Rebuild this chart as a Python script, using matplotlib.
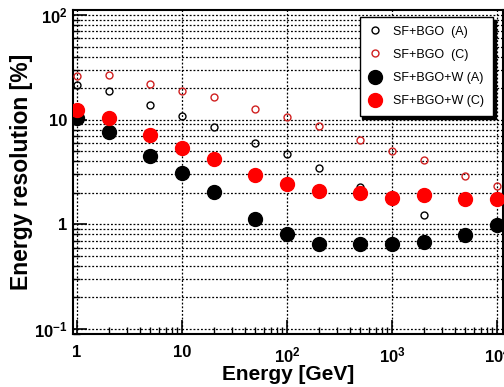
import numpy as np
import matplotlib
matplotlib.use("Agg")
import matplotlib.pyplot as plt
from matplotlib.ticker import FixedLocator, FuncFormatter, NullFormatter

plt.rcParams['font.family'] = ['Liberation Sans', 'DejaVu Sans']
plt.rcParams['mathtext.fontset'] = 'custom'
plt.rcParams['mathtext.rm'] = 'Liberation Sans:bold'
plt.rcParams['mathtext.it'] = 'Liberation Sans:bold'
plt.rcParams['mathtext.bf'] = 'Liberation Sans:bold'

# Beam energies [GeV]
energy = [1, 2, 5, 10, 20, 50, 100, 200, 500, 1000, 2000, 5000, 10000]

# Energy resolution [%]
sf_bgo_a = [21.4, 18.9, 13.7, 10.8, 8.5, 6.05, 4.67, 3.46, 2.27, np.nan, 1.22, np.nan, np.nan]
sf_bgo_c = [26.1, 26.9, 22.0, 18.7, 16.3, 12.6, 10.5, 8.8, 6.46, 5.07, 4.12, 2.92, 2.31]
sf_bgo_w_a = [10.4, 7.64, 4.54, 3.12, 2.04, 1.13, 0.815, 0.648, 0.644, 0.653, 0.677, 0.785, 0.98]
sf_bgo_w_c = [12.3, 10.3, 7.11, 5.37, 4.19, 2.94, 2.43, 2.10, 2.01, 1.77, 1.91, 1.76, 1.73]

labels = ["SF+BGO  (A)", "SF+BGO  (C)", "SF+BGO+W (A)", "SF+BGO+W (C)"]

fig = plt.figure(figsize=(5.04, 3.87), dpi=100)
ax = fig.add_axes([0.145, 0.137, 0.853, 0.837])

ax.set_xscale('log')
ax.set_yscale('log')
ax.set_xlim(0.916, 11400)
ax.set_ylim(0.0896, 111.6)

# grid: all decades + minor steps horizontally, decades only vertically
ax.set_axisbelow(True)
ax.grid(True, axis='x', which='major', color='black', linestyle=(0, (1.5, 1.5)), linewidth=0.9)
ax.grid(True, axis='y', which='both', color='black', linestyle=(0, (1.5, 1.5)), linewidth=0.9)

ax.plot(energy, sf_bgo_a, linestyle='none', marker='o', markersize=5,
        markerfacecolor='none', markeredgecolor='black', markeredgewidth=1.0,
        label=labels[0], zorder=3)
ax.plot(energy, sf_bgo_c, linestyle='none', marker='o', markersize=5,
        markerfacecolor='none', markeredgecolor='#d02020', markeredgewidth=1.0,
        label=labels[1], zorder=3)
ax.plot(energy, sf_bgo_w_a, linestyle='none', marker='o', markersize=10,
        color='black', label=labels[2], zorder=4)
ax.plot(energy, sf_bgo_w_c, linestyle='none', marker='o', markersize=10,
        color='#ff0000', label=labels[3], zorder=5)

def log_label(v, pos):
    e = int(round(np.log10(v)))
    if e == 0:
        return '1'
    if e == 1:
        return '10'
    return r'$10^{%d}$' % e

ax.xaxis.set_major_locator(FixedLocator([1, 10, 100, 1000, 10000]))
ax.yaxis.set_major_locator(FixedLocator([0.1, 1, 10, 100]))
ax.xaxis.set_major_formatter(FuncFormatter(log_label))
ax.yaxis.set_major_formatter(FuncFormatter(log_label))
ax.xaxis.set_minor_formatter(NullFormatter())
ax.yaxis.set_minor_formatter(NullFormatter())

ax.tick_params(axis='both', which='major', direction='in', length=10, width=1.2,
               labelsize=12, top=False, right=False)
ax.tick_params(axis='both', which='minor', direction='in', length=5, width=1.0,
               top=False, right=False)
ax.tick_params(axis='x', which='major', pad=8)
ax.tick_params(axis='y', which='major', pad=4)
for lab in ax.get_xticklabels() + ax.get_yticklabels():
    lab.set_fontweight('bold')

for sp in ax.spines.values():
    sp.set_linewidth(1.5)

ax.set_xlabel('Energy [GeV]', fontsize=15, fontweight='bold', labelpad=0)
ax.set_ylabel('Energy resolution [%]', fontsize=16.5, fontweight='bold')
ax.yaxis.set_label_coords(-0.093, 0.5)

leg = ax.legend(loc='upper right', bbox_to_anchor=(0.977, 0.979), borderaxespad=0,
                fontsize=9, frameon=True, fancybox=False,
                shadow={'color': 'black', 'alpha': 1.0},
                edgecolor='black', framealpha=1.0, labelspacing=0.9,
                handletextpad=1.0, borderpad=0.7, handlelength=1.0,
                markerscale=1.0, numpoints=1)
leg.get_frame().set_linewidth(1.0)
leg.set_zorder(10)

fig.savefig('out.png', dpi=100)
